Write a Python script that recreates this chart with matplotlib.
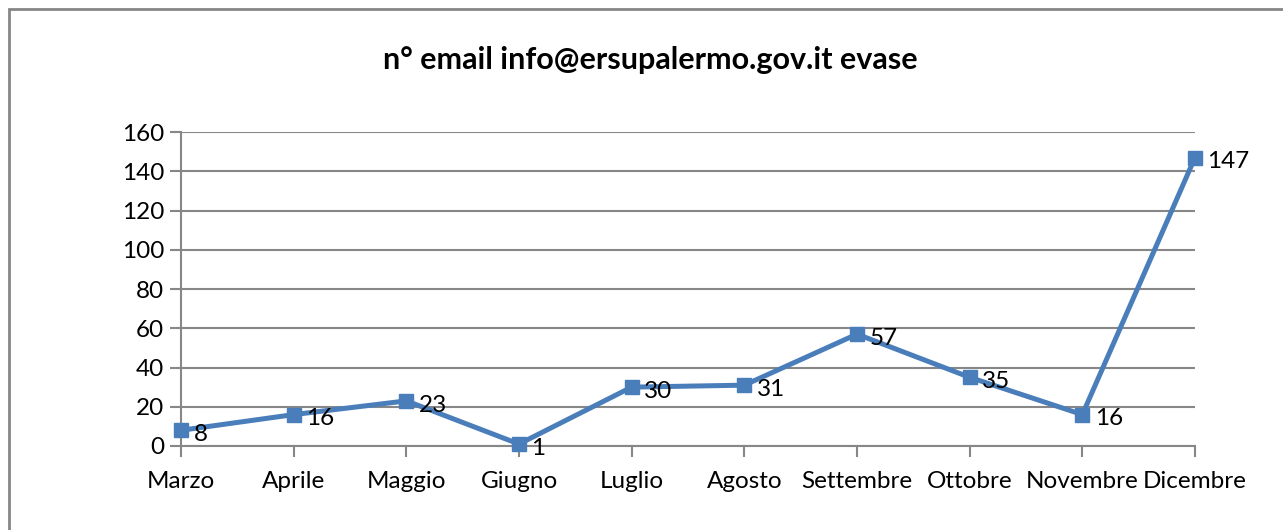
import matplotlib
matplotlib.use("Agg")
import matplotlib.pyplot as plt
from matplotlib.patches import Rectangle

months = ["Marzo", "Aprile", "Maggio", "Giugno", "Luglio", "Agosto",
          "Settembre", "Ottobre", "Novembre", "Dicembre"]
emails = [8, 16, 23, 1, 30, 31, 57, 35, 16, 147]
yticks = [0, 20, 40, 60, 80, 100, 120, 140, 160]
title = "n° email info@ersupalermo.gov.it evase"

plt.rcParams['font.family'] = ['Lato', 'DejaVu Sans']

W, H = 1283, 530
fig = plt.figure(figsize=(W / 100, H / 100), dpi=100)
fig.patch.set_facecolor("white")

# outer chart border (right/bottom are cropped in the reference)
fig.patches.append(Rectangle((9 / W, -0.1), 1.2, 1 - 9 / H + 0.1,
                             transform=fig.transFigure, fill=False,
                             edgecolor="#868686", linewidth=2))

ax = fig.add_axes([181 / W, 1 - 446 / H, (1195 - 181) / W, (446 - 132) / H])
x = list(range(len(months)))
blue = "#4A7EBB"
ax.plot(x, emails, color=blue, linewidth=3.6, marker="s", markersize=10,
        markeredgecolor=blue, markerfacecolor=blue, zorder=3, clip_on=False)
for xi, v in zip(x, emails):
    ax.annotate(str(v), (xi, v), xytext=(9, -3), textcoords="offset points",
                ha="left", va="center", fontsize=17.5, color="black", zorder=4)

ax.set_xlim(0, len(months) - 1)
ax.set_ylim(0, 160)
ax.set_yticks(yticks)
ax.set_xticks(x)
ax.set_xticklabels(months)
ax.grid(axis="y", color="#878787", linewidth=1.5)
ax.set_axisbelow(True)
for s in ["top", "right"]:
    ax.spines[s].set_visible(False)
for s in ["left", "bottom"]:
    ax.spines[s].set_color("#878787")
    ax.spines[s].set_linewidth(1.5)
ax.tick_params(axis="both", colors="#878787", width=1.5, length=8,
               labelsize=17.5, labelcolor="black")
ax.tick_params(axis="x", pad=10)
ax.tick_params(axis="y", pad=4)

fig.text(650 / W, 1 - 60 / H, title, ha="center", va="center",
         fontsize=22, fontweight="bold")

fig.savefig("out.png", dpi=100)
